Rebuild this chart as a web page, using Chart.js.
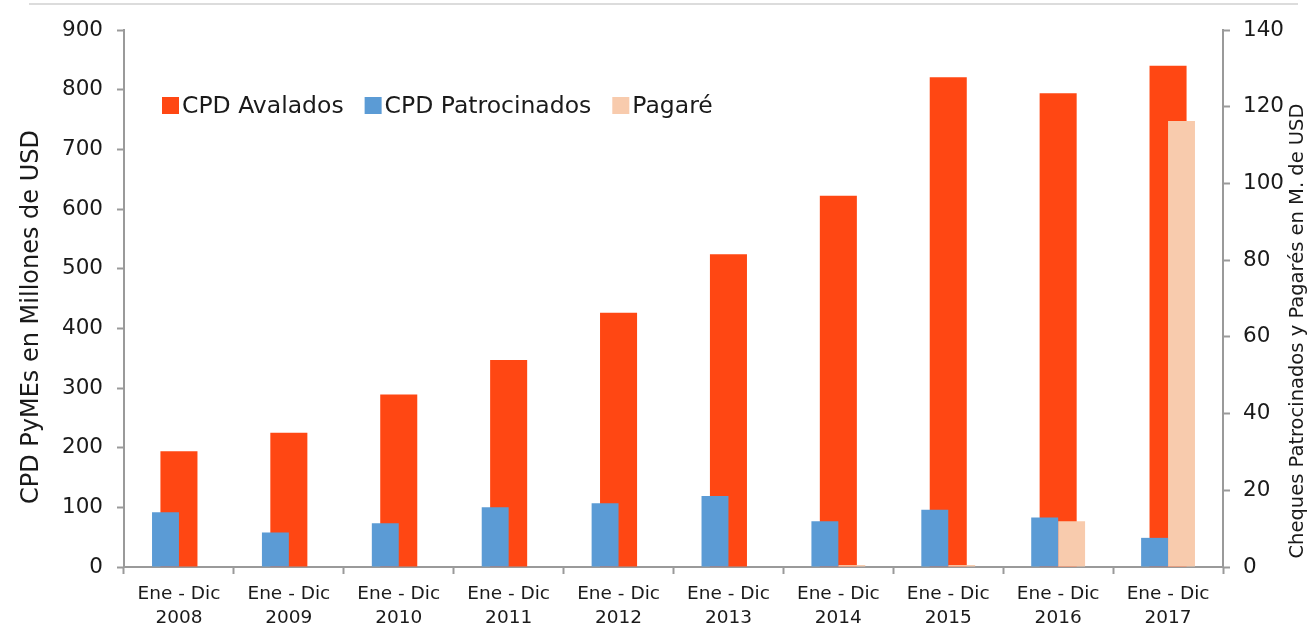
<!DOCTYPE html>
<html>
<head>
<meta charset="utf-8">
<script src="https://cdn.jsdelivr.net/npm/chart.js@4/dist/chart.umd.min.js"></script>
<style>
  body { margin: 0; background: #fff; }
  .wrap { position: relative; width: 1313px; height: 626px; }
  .topLine { position: absolute; left: 29px; top: 3px; width: 1269px; height: 2px; background: #dcdcdc; }
</style>
</head>
<body>
<div class="wrap">
  <canvas class="chart" width="1313" height="626"></canvas>
  <div class="topLine"></div>
</div>
<script>
// categories (two-line labels)
const years = ['2008', '2009', '2010', '2011', '2012', '2013', '2014', '2015', '2016', '2017'];
const periodLabel = 'Ene - Dic';

// series values
const avalados = [194, 225, 289, 347, 426, 524, 622, 821, 794, 840];     // left axis
const patrocinados = [14.3, 9.0, 11.4, 15.6, 16.6, 18.5, 11.9, 14.9, 12.9, 7.6]; // right axis
const pagare = [0, 0, 0, 0, 0, 0, 0.5, 0.5, 11.9, 116.3];                // right axis

// axis titles
const leftTitleText = 'CPD PyMEs en Millones de USD';
const rightTitleText = 'Cheques Patrocinados y Pagarés en M. de USD';

// colors
const orange = '#FF4713';
const blue = '#5B9BD5';
const peach = '#F8CBAD';
const axisGrey = '#9a9a9a';
const fontName = '"DejaVu Sans", sans-serif';

// legend drawn inside the plot area, like the original
const insideLegend = {
  id: 'insideLegend',
  afterDraw(chart) {
    const c = chart.ctx;
    const items = [
      { text: 'CPD Avalados', color: orange },
      { text: 'CPD Patrocinados', color: blue },
      { text: 'Pagaré', color: peach }
    ];
    let x = 162;
    const y = 105.5;
    c.save();
    c.font = '23.5px ' + fontName;
    c.textBaseline = 'middle';
    items.forEach(item => {
      c.fillStyle = item.color;
      c.fillRect(x, y - 8.5, 17, 17);
      c.fillStyle = '#1a1a1a';
      c.fillText(item.text, x + 20, y + 1);
      x += 20 + c.measureText(item.text).width + 21;
    });
    c.restore();
  }
};

// both axis titles read bottom-to-top in the original
function drawVerticalText(c, text, x, y, size) {
  c.save();
  c.translate(x, y);
  c.rotate(-Math.PI / 2);
  c.font = size + 'px ' + fontName;
  c.fillStyle = '#1a1a1a';
  c.textAlign = 'center';
  c.textBaseline = 'middle';
  c.fillText(text, 0, 0);
  c.restore();
}

const axisTitles = {
  id: 'axisTitles',
  afterDraw(chart) {
    drawVerticalText(chart.ctx, leftTitleText, 32, 317, 24);
    drawVerticalText(chart.ctx, rightTitleText, 1298, 331, 19.5);
  }
};

const ctx = document.querySelector('.chart');

const displayedChart = new Chart(ctx, {
  type: 'bar',
  data: {
    labels: years.map(y => [periodLabel, y]),
    datasets: [
      {
        label: 'CPD Avalados',
        data: avalados,
        backgroundColor: orange,
        yAxisID: 'y',
        grouped: false,
        barPercentage: 0.337,
        categoryPercentage: 1,
        order: 1
      },
      {
        label: 'CPD Patrocinados',
        data: patrocinados,
        backgroundColor: blue,
        yAxisID: 'y1',
        barPercentage: 1,
        categoryPercentage: 0.49,
        order: 0
      },
      {
        label: 'Pagaré',
        data: pagare,
        backgroundColor: peach,
        yAxisID: 'y1',
        barPercentage: 1,
        categoryPercentage: 0.49,
        order: 0
      }
    ]
  },
  options: {
    responsive: false,
    animation: false,
    layout: { padding: { top: 30, left: 0, right: 0, bottom: 0 } },
    plugins: {
      legend: { display: false },
      tooltip: { enabled: false }
    },
    scales: {
      x: {
        grid: {
          offset: true,
          drawOnChartArea: false,
          drawTicks: true,
          tickLength: 7,
          tickColor: axisGrey,
          tickWidth: 2
        },
        border: { color: axisGrey, width: 2 },
        ticks: {
          color: '#1a1a1a',
          font: { family: fontName, size: 18.5, lineHeight: 1.3 },
          padding: 8,
          maxRotation: 0
        },
        afterFit(scale) { scale.height = 59; }
      },
      y: {
        position: 'left',
        min: 0,
        max: 900,
        ticks: {
          stepSize: 100,
          color: '#1a1a1a',
          font: { family: fontName, size: 21.5 },
          padding: 14
        },
        grid: {
          drawOnChartArea: false,
          tickLength: 7,
          tickColor: axisGrey,
          tickWidth: 2
        },
        border: { color: axisGrey, width: 2 },
        afterFit(scale) { scale.width = 124; }
      },
      y1: {
        position: 'right',
        min: 0,
        max: 140,
        ticks: {
          stepSize: 20,
          color: '#1a1a1a',
          font: { family: fontName, size: 21.5 },
          padding: 13
        },
        grid: {
          drawOnChartArea: false,
          tickLength: 7,
          tickColor: axisGrey,
          tickWidth: 2
        },
        border: { color: axisGrey, width: 2 },
        afterFit(scale) { scale.width = 90; }
      }
    }
  },
  plugins: [insideLegend, axisTitles]
});
</script>
</body>
</html>
